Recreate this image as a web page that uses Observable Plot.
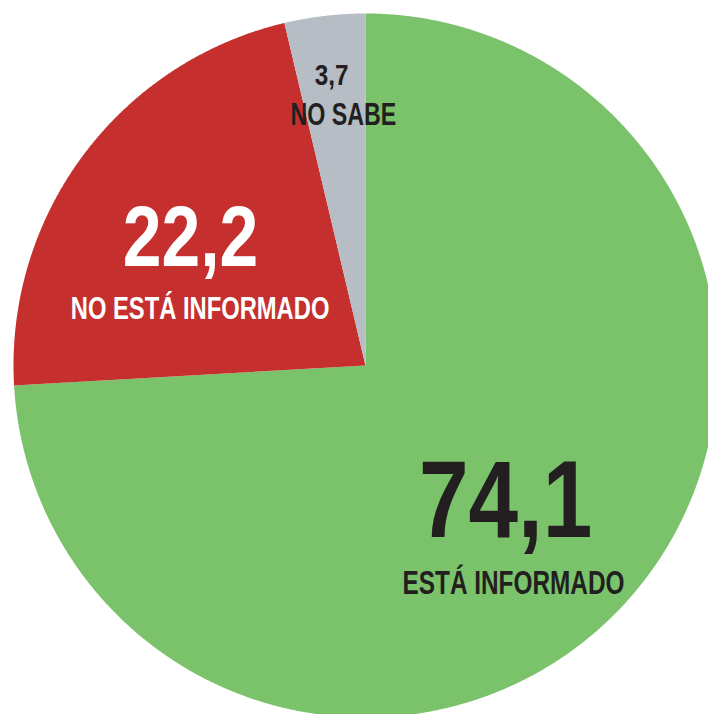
<!DOCTYPE html>
<html>
<head>
<meta charset="utf-8">
<script src="https://cdn.jsdelivr.net/npm/d3@7"></script>
<script src="https://cdn.jsdelivr.net/npm/@observablehq/plot@0.6"></script>
<style>
  html, body { margin: 0; padding: 0; background: #ffffff; }
  #chart svg { display: block; }
</style>
</head>
<body>
<div id="chart"></div>
<script>
// ---- data ----
const categories = ["ESTÁ INFORMADO", "NO ESTÁ INFORMADO", "NO SABE"];
const values = [74.1, 22.2, 3.7];
const valueLabels = ["74,1", "22,2", "3,7"];

// ---- layout (pixels) ----
const W = 708, H = 714;
const cx = 365, cy = 365, R = 352;

// pie angles (0 = 12 o'clock, clockwise)
const arcs = d3.pie().sort(null).value(d => d)(values);

// polygon points for each slice, in unit-circle coordinates
const slicePts = [];
arcs.forEach((a, i) => {
  const cat = categories[i];
  slicePts.push({cat, x: 0, y: 0});
  const n = Math.max(2, Math.ceil((a.endAngle - a.startAngle) / (Math.PI / 720)));
  for (let k = 0; k <= n; k++) {
    const t = a.startAngle + (a.endAngle - a.startAngle) * k / n;
    slicePts.push({cat, x: Math.sin(t), y: Math.cos(t)});
  }
  slicePts.push({cat, x: 0, y: 0});
});

// label anchors along each slice's mid-angle
const labelRadius = [0.548, 0.62, 0.832];
const labels = arcs.map((a, i) => {
  const m = (a.startAngle + a.endAngle) / 2;
  return {cat: categories[i], value: valueLabels[i],
          x: labelRadius[i] * Math.sin(m), y: labelRadius[i] * Math.cos(m)};
});

const font = "'Liberation Sans', Arial, Helvetica, sans-serif";
const dark = "#231f20";

const valueText = (d, fill, fontSize, dy) =>
  Plot.text([d], {x: "x", y: "y", text: "value", fill, fontFamily: font, fontWeight: "bold",
    fontSize, lineAnchor: "bottom", dy});
const nameText = (d, fill, fontSize, dx, dy) =>
  Plot.text([d], {x: "x", y: "y", text: "cat", fill, fontFamily: font, fontWeight: "bold",
    fontSize, lineAnchor: "bottom", dx, dy});

const chart = Plot.plot({
  width: W,
  height: H,
  margin: 0,
  x: {domain: [-cx / R, (W - cx) / R], axis: null},
  y: {domain: [-(H - cy) / R, cy / R], axis: null},
  color: {domain: categories, range: ["#7bc36a", "#c5302e", "#b6bdc5"]},
  style: {background: "#ffffff"},
  marks: [
    Plot.line(slicePts, {x: "x", y: "y", z: "cat", fill: "cat", stroke: "none", clip: true}),
    valueText(labels[0], dark, 110, 39.5),
    valueText(labels[1], "#ffffff", 86, 30.6),
    valueText(labels[2], dark, 30, 10.8),
    nameText(labels[0], dark, 32.5, 7.8, 96.1),
    nameText(labels[1], "#ffffff", 31.7, 9.5, 83.6),
    nameText(labels[2], dark, 31, 11.8, 50.8)
  ]
});

// condensed look: squeeze text horizontally around its anchor
chart.querySelectorAll("text").forEach(t => {
  const s = valueLabels.includes(t.textContent) ? 0.81 : 0.75;
  let tr = t.getAttribute("transform");
  if (!tr) {
    const x = +t.getAttribute("x") || 0;
    t.removeAttribute("x");
    tr = `translate(${x},0)`;
  }
  t.setAttribute("transform", `${tr} scale(${s},1)`);
});

document.getElementById("chart").appendChild(chart);
</script>
</body>
</html>
